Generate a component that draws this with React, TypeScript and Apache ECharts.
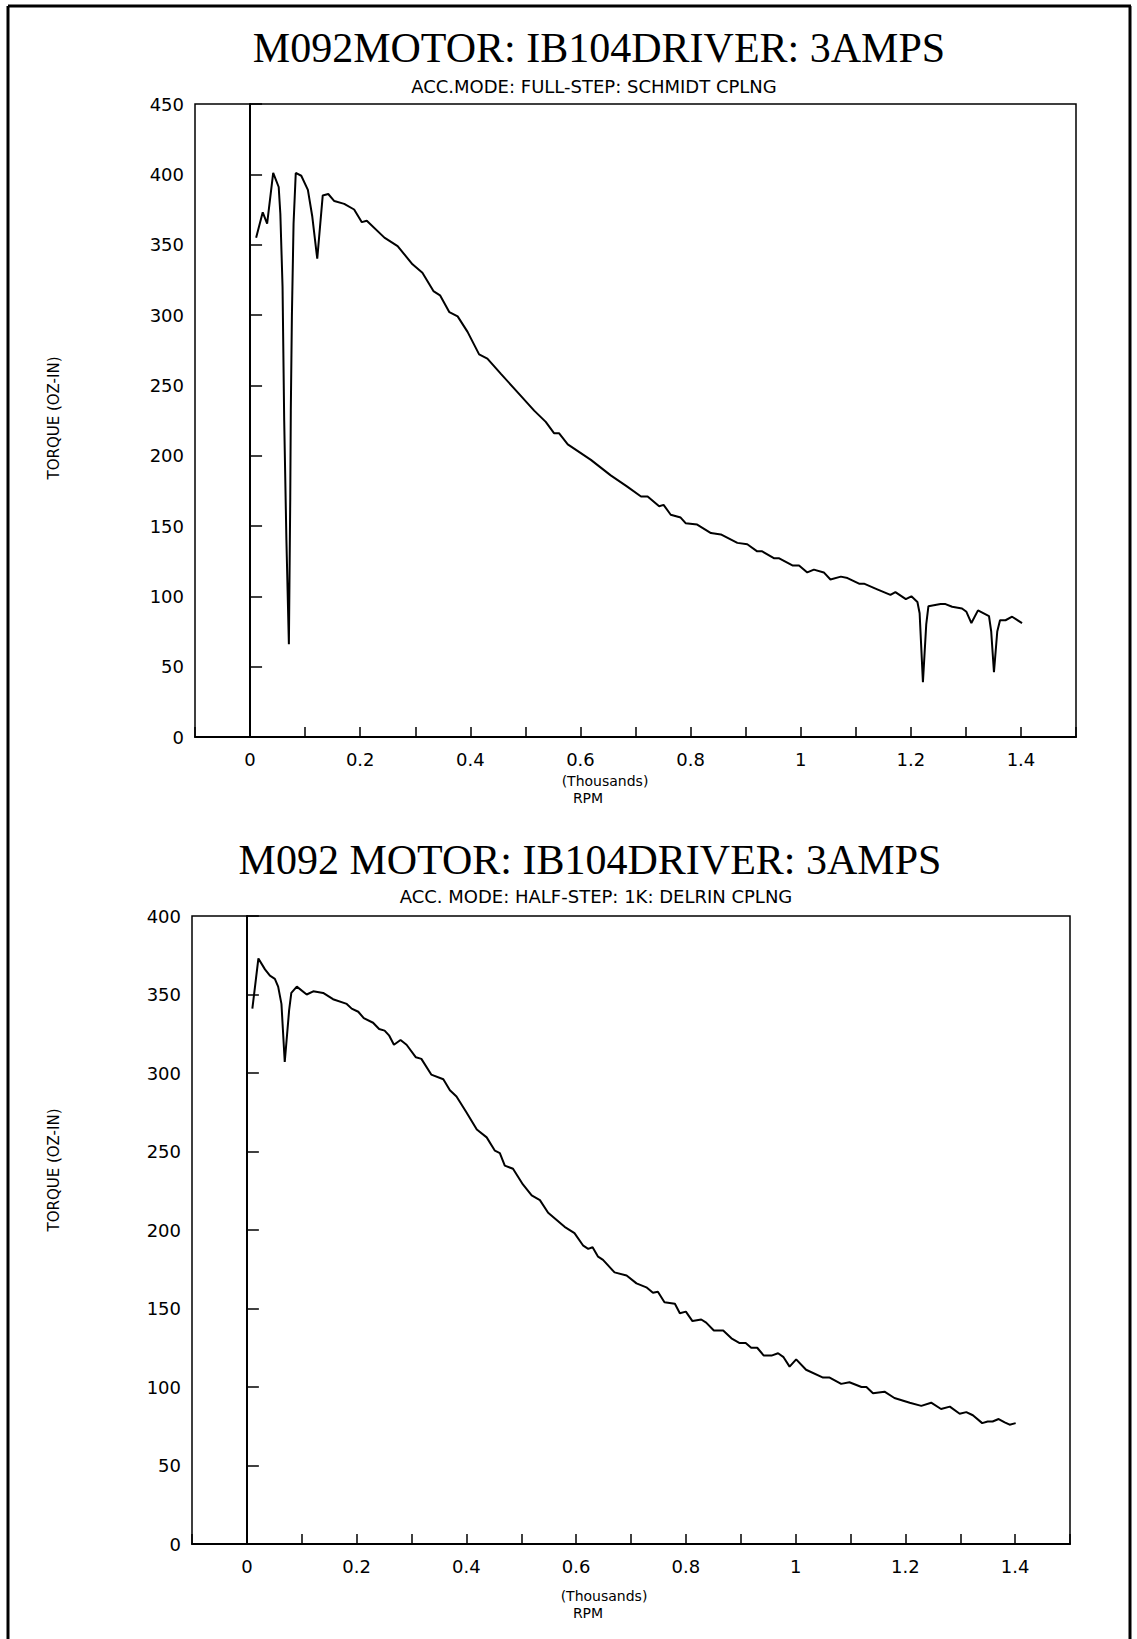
import React, { useEffect, useRef } from "react";
import * as echarts from "echarts";

// ---------- DATA ----------
const topTitle = "M092MOTOR: IB104DRIVER: 3AMPS";
const topSubtitle = "ACC.MODE: FULL-STEP: SCHMIDT CPLNG";
const bottomTitle = "M092 MOTOR: IB104DRIVER: 3AMPS";
const bottomSubtitle = "ACC. MODE: HALF-STEP: 1K: DELRIN CPLNG";
const yAxisName = "TORQUE (OZ-IN)";
const xUnit = "(Thousands)";
const xName = "RPM";

// RPM in thousands
const topRpm = [
  0.011, 0.023, 0.031, 0.042, 0.052, 0.055, 0.059, 0.062, 0.066, 0.0705, 0.073, 0.074, 0.076, 0.079, 0.083,
  0.093, 0.105, 0.113, 0.122,
  0.132, 0.142, 0.153, 0.171, 0.189, 0.203, 0.212, 0.244, 0.268, 0.295, 0.313, 0.333, 0.345, 0.362, 0.377,
  0.395, 0.416, 0.431, 0.456, 0.486, 0.516, 0.537, 0.552, 0.561, 0.577, 0.619, 0.655, 0.685, 0.71, 0.722,
  0.743, 0.751, 0.764, 0.782, 0.791, 0.812, 0.837, 0.855, 0.885, 0.903, 0.921, 0.93, 0.952, 0.961, 0.985,
  0.997, 1.012, 1.024, 1.042, 1.054, 1.073, 1.085, 1.106, 1.115, 1.139, 1.163, 1.172, 1.191, 1.201, 1.212,
  1.216, 1.222, 1.228, 1.232, 1.254, 1.263, 1.275, 1.293, 1.301, 1.31, 1.322, 1.342, 1.346, 1.351, 1.357,
  1.362, 1.372, 1.384, 1.402,
];
const topTorque = [
  355, 373, 365, 401, 391, 372, 320, 225, 140, 66, 170, 232, 300, 365, 401,
  399, 389, 370, 340,
  385, 386, 381, 379, 375, 366, 367, 355, 349, 336, 330, 317, 314, 302, 299,
  288, 272, 269, 258, 245, 232, 224, 216, 216, 208, 197, 186, 178, 171, 171,
  164, 165, 158, 156, 152, 151, 145, 144, 138, 137, 132, 132, 127, 127, 122,
  122, 117, 119, 117, 112, 114, 113, 109, 109, 105, 101, 103, 98, 100, 96,
  88, 39, 80, 93, 94.5, 94.5, 92.6, 91.4, 89, 81, 90, 86, 75, 46, 75,
  83, 83, 85.5, 81,
];

const bottomRpm = [
  0.01, 0.021, 0.033, 0.042, 0.051, 0.057, 0.063, 0.069, 0.077, 0.081, 0.091, 0.109, 0.121, 0.139, 0.157,
  0.182, 0.191, 0.203, 0.213, 0.23, 0.241, 0.251, 0.259, 0.268, 0.28, 0.291, 0.308, 0.318, 0.336, 0.358,
  0.37, 0.382, 0.4, 0.419, 0.437, 0.452, 0.461, 0.47, 0.485, 0.503, 0.519, 0.534, 0.549, 0.579, 0.597,
  0.613, 0.622, 0.63, 0.64, 0.649, 0.67, 0.692, 0.71, 0.728, 0.74, 0.749, 0.761, 0.78, 0.789, 0.8,
  0.812, 0.828, 0.837, 0.851, 0.868, 0.883, 0.898, 0.909, 0.919, 0.93, 0.942, 0.956, 0.968, 0.978, 0.989,
  1.001, 1.019, 1.05, 1.062, 1.083, 1.098, 1.12, 1.129, 1.141, 1.162, 1.18, 1.208, 1.229, 1.247, 1.265,
  1.281, 1.299, 1.311, 1.323, 1.34, 1.35, 1.359, 1.37, 1.381, 1.39, 1.401,
];
const bottomTorque = [
  341, 373, 366, 362, 360, 355, 344, 307, 340, 351, 355, 350, 352, 351, 347,
  344, 341, 339, 335, 332, 328, 327, 324, 318, 321, 318, 310, 309, 299, 296,
  289, 285, 275, 264, 259, 250.5, 249, 241, 239, 229, 222, 219, 211, 202, 198,
  190, 188, 189, 183, 181, 173, 171, 166, 163.5, 160, 160.7, 154, 153, 147, 148,
  142, 143, 141, 136, 136, 131, 128, 128, 125, 125, 120, 120, 121.5, 119, 113,
  117.6, 111, 106, 106, 102, 103, 100, 100, 96, 97, 93, 90, 88, 90, 86,
  87.5, 83, 84, 82, 77, 78, 78, 79.6, 77.5, 76, 77,
];

const xMin = -0.1;
const xMax = 1.5;
const xStep = 0.1;
const topYMax = 450;
const bottomYMax = 400;
const yStep = 50;

// ---------- COMPONENT ----------
export default function App() {
  const ref = useRef<HTMLDivElement>(null);

  useEffect(() => {
    document.body.style.margin = "0";
    if (!ref.current) return;
    const chart = echarts.init(ref.current, null, { renderer: "svg" });

    const sans = "'DejaVu Sans', Verdana, sans-serif";
    const serif = "'Liberation Serif', 'Times New Roman', serif";

    const xAxisBase = (gridIndex: number) => ({
      type: "value",
      gridIndex,
      min: xMin,
      max: xMax,
      interval: xStep,
      axisLine: { show: true, onZero: false, lineStyle: { color: "#000", width: 2 } },
      axisTick: { show: true, inside: true, length: 10, lineStyle: { color: "#000", width: 1.5 } },
      splitLine: { show: false },
      axisLabel: {
        color: "#000",
        fontFamily: sans,
        fontSize: 18,
        margin: 13,
        formatter: (v: number) => {
          const r = Math.round(v * 10);
          if (r < 0 || r > 14 || r % 2 !== 0) return "";
          return String(r / 10);
        },
      },
    });

    const yAxisBase = (gridIndex: number, max: number) => ({
      type: "value",
      gridIndex,
      min: 0,
      max,
      interval: yStep,
      axisLine: { show: true, lineStyle: { color: "#000", width: 2 } },
      axisTick: { show: true, inside: true, length: 12, lineStyle: { color: "#000", width: 1.5 } },
      splitLine: { show: false },
      axisLabel: { color: "#000", fontFamily: sans, fontSize: 18, margin: 11 },
    });

    const zeroLine = {
      silent: true,
      symbol: ["none", "none"],
      label: { show: false },
      lineStyle: { type: "solid", color: "#000", width: 1.5 },
      data: [{ xAxis: 0 }],
    };

    const txt = (text: string, x: number, y: number, font: string, extra: any = {}) => ({
      type: "text",
      x,
      y,
      ...extra,
      style: {
        text,
        font,
        fill: "#000",
        align: "center",
        verticalAlign: "middle",
        textAlign: "center",
        textVerticalAlign: "middle",
      },
    });

    const option: any = {
      animation: false,
      backgroundColor: "#fff",
      grid: [
        { left: 195, top: 104, width: 881, height: 633, show: true, borderColor: "#000", borderWidth: 1.5 },
        { left: 192, top: 916, width: 878, height: 628, show: true, borderColor: "#000", borderWidth: 1.5 },
      ],
      xAxis: [xAxisBase(0), xAxisBase(1)],
      yAxis: [yAxisBase(0, topYMax), yAxisBase(1, bottomYMax)],
      series: [
        {
          type: "line",
          xAxisIndex: 0,
          yAxisIndex: 0,
          data: topRpm.map((x, i) => [x, topTorque[i]]),
          showSymbol: false,
          symbol: "none",
          lineStyle: { color: "#000", width: 2 },
          markLine: zeroLine,
        },
        {
          type: "line",
          xAxisIndex: 1,
          yAxisIndex: 1,
          data: bottomRpm.map((x, i) => [x, bottomTorque[i]]),
          showSymbol: false,
          symbol: "none",
          lineStyle: { color: "#000", width: 2 },
          markLine: zeroLine,
        },
      ],
      graphic: [
        { type: "line", shape: { x1: 8, y1: 6, x2: 8, y2: 1639 }, style: { stroke: "#000", lineWidth: 3 } },
        { type: "line", shape: { x1: 8, y1: 6, x2: 1131, y2: 6 }, style: { stroke: "#000", lineWidth: 3 } },
        { type: "line", shape: { x1: 1130, y1: 6, x2: 1130, y2: 1639 }, style: { stroke: "#000", lineWidth: 3 } },
        txt(topTitle, 599, 48, `42px ${serif}`),
        txt(topSubtitle, 594, 86, `18px ${sans}`),
        txt(bottomTitle, 590, 860, `42px ${serif}`),
        txt(bottomSubtitle, 596, 896, `18px ${sans}`),
        txt(yAxisName, 54, 418, `15px ${sans}`, { rotation: Math.PI / 2 }),
        txt(yAxisName, 54, 1170, `15px ${sans}`, { rotation: Math.PI / 2 }),
        txt(xUnit, 605, 781, `14px ${sans}`),
        txt(xName, 588, 798, `14px ${sans}`),
        txt(xUnit, 604, 1596, `14px ${sans}`),
        txt(xName, 588, 1613, `14px ${sans}`),
      ],
    };

    chart.setOption(option);
    return () => chart.dispose();
  }, []);

  return <div ref={ref} style={{ width: 1137, height: 1639 }} />;
}
